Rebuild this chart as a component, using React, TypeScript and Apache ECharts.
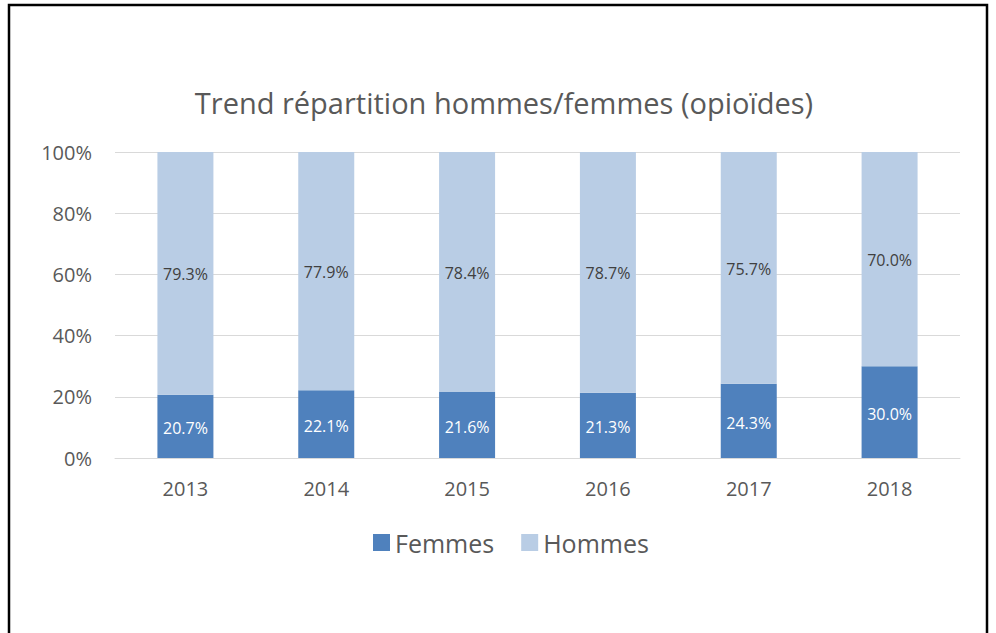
import React, { useEffect, useRef } from "react";
import * as echarts from "echarts";

const categories = ["2013", "2014", "2015", "2016", "2017", "2018"];
const femmes = [20.7, 22.1, 21.6, 21.3, 24.3, 30.0];
const hommes = [79.3, 77.9, 78.4, 78.7, 75.7, 70.0];
const titleText = "Trend répartition hommes/femmes (opioïdes)";

const FONT = "'Open Sans', 'Noto Sans', sans-serif";

export default function App() {
  const ref = useRef<HTMLDivElement>(null);
  useEffect(() => {
    if (!ref.current) return;
    const chart = echarts.init(ref.current, undefined, { renderer: "svg" });
    chart.setOption({
      animation: false,
      backgroundColor: "#ffffff",
      title: {
        text: titleText,
        left: 499,
        textAlign: "center",
        top: 83,
        textStyle: { fontFamily: FONT, fontSize: 29, fontWeight: "normal", color: "#595959" },
      },
      graphic: [
        {
          type: "rect",
          shape: { x: 9, y: 5, width: 978, height: 700 },
          style: { fill: "none", stroke: "#000000", lineWidth: 2.5 },
          z: 100,
        },
      ],
      legend: {
        left: 368,
        top: 525,
        itemWidth: 17,
        itemHeight: 17,
        itemGap: 27,
        textStyle: { fontFamily: FONT, fontSize: 25, color: "#595959", padding: [0, 0, 0, 0] },
        data: [
          { name: "Femmes", icon: "rect" },
          { name: "Hommes", icon: "rect" },
        ],
      },
      grid: { left: 115, right: 36, top: 152, bottom: 175 },
      xAxis: {
        type: "category",
        data: categories,
        axisLine: { lineStyle: { color: "#D9D9D9", width: 1 } },
        axisTick: { show: false },
        axisLabel: { fontFamily: FONT, fontSize: 20, color: "#595959", margin: 20 },
      },
      yAxis: {
        type: "value",
        min: 0,
        max: 100,
        interval: 20,
        axisLine: { show: false },
        axisTick: { show: false },
        splitLine: { lineStyle: { color: "#D9D9D9", width: 1 } },
        axisLabel: {
          fontFamily: FONT,
          fontSize: 20,
          color: "#595959",
          margin: 23,
          formatter: (v: number) => v + "%",
        },
      },
      series: [
        {
          name: "Femmes",
          type: "bar",
          stack: "total",
          barWidth: 56,
          data: femmes,
          itemStyle: { color: "#4F81BD" },
          label: {
            show: true,
            position: "inside",
            offset: [0, 2],
            fontFamily: FONT,
            fontSize: 16,
            color: "#ffffff",
            formatter: (p: any) => p.value.toFixed(1) + "%",
          },
        },
        {
          name: "Hommes",
          type: "bar",
          stack: "total",
          barWidth: 56,
          data: hommes,
          itemStyle: { color: "#B9CDE5" },
          label: {
            show: true,
            position: "inside",
            offset: [0, 1],
            fontFamily: FONT,
            fontSize: 16,
            color: "#404040",
            formatter: (p: any) => p.value.toFixed(1) + "%",
          },
        },
      ],
    });
    return () => chart.dispose();
  }, []);
  return (
    <div
      ref={ref}
      style={{ position: "absolute", left: 0, top: 0, width: 996, height: 633 }}
    />
  );
}
